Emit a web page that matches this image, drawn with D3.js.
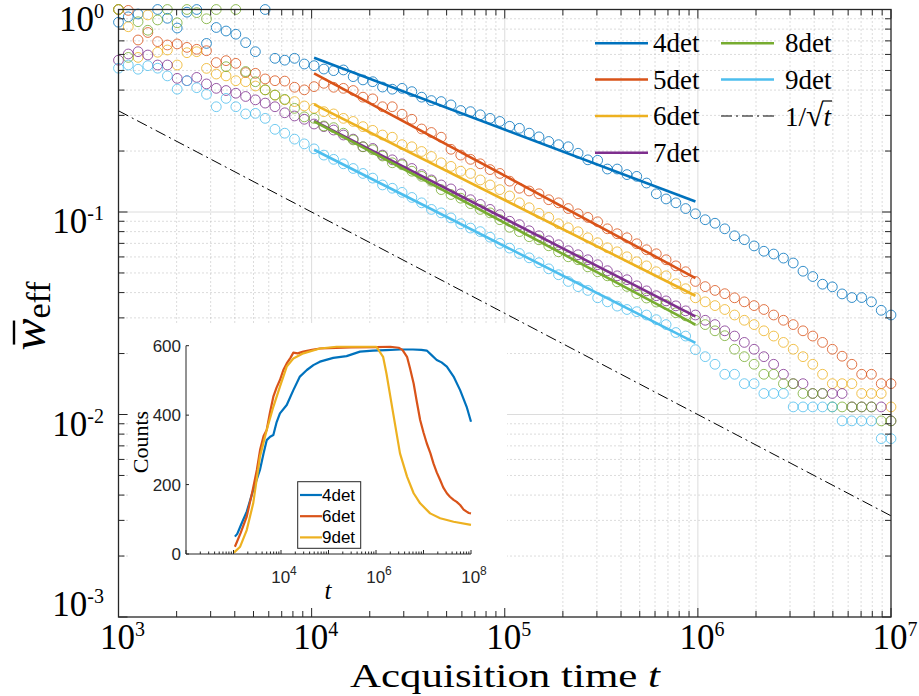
<!DOCTYPE html>
<html lang="en">
<head>
<meta charset="UTF-8">
<title>Effective width vs acquisition time</title>
<script src="https://d3js.org/d3.v7.min.js"></script>
<style>
  body { margin: 0; background: #fff; }
  svg { display: block; }
  .serif { font-family: 'Liberation Serif', 'DejaVu Serif', serif; }
  .sans { font-family: 'Liberation Sans', 'DejaVu Sans', sans-serif; }
</style>
</head>
<body>
<svg id="chart" width="919" height="696"></svg>
<script>
// ---- data ----
const seriesNames = ['4det', '5det', '6det', '7det', '8det', '9det'];
const seriesColors = ['#0072BD', '#D95319', '#EDB120', '#7E2F8E', '#77AC30', '#4DBEEE'];

// 80 log-spaced acquisition times between 1e3 and 1e7 (sampling grid)
const times = d3.range(80).map(k => Math.pow(10, 3 + 4 * k / 79));

const w4 = [0.865,0.92,0.95,null,1.0,0.905,0.81,0.97,1.0,0.68,
  0.815,0.783,0.755,0.686,0.619,1.0,0.574,0.562,0.574,0.538,
  0.528,0.508,0.499,0.503,0.466,0.449,0.44,0.414,0.404,0.408,
  0.393,0.369,0.355,0.351,0.338,0.317,0.313,0.302,0.29,0.28,
  0.265,0.259,0.245,0.235,0.223,0.215,0.21,0.195,0.181,0.18,
  0.163,0.163,0.153,0.15,0.139,0.123,0.116,0.111,0.104,0.098,
  0.0916,0.088,0.0826,0.0763,0.073,0.068,0.064,0.062,0.0592,0.056,
  0.051,0.048,0.044,0.0427,0.0394,0.0378,0.0378,0.036,0.0327,0.031];
const w5 = [1.0,0.99,0.707,0.77,0.694,0.668,0.676,0.65,0.636,0.626,
  0.547,0.559,0.542,0.488,0.484,0.454,0.445,0.443,0.413,0.401,
  0.416,0.432,0.413,0.408,0.398,0.369,0.362,0.331,0.331,0.304,
  0.287,0.257,0.247,0.234,0.204,0.191,0.182,0.173,0.162,0.155,
  0.142,0.131,0.127,0.123,0.115,0.111,0.104,0.098,0.094,0.0895,
  0.0826,0.0781,0.0746,0.0697,0.0651,0.0622,0.0581,0.0542,0.0507,0.0454,
  0.0428,0.041,0.0395,0.0377,0.036,0.0345,0.033,0.031,0.0292,0.0278,
  0.0259,0.0244,0.0227,0.021,0.0194,0.0177,0.0158,0.0158,0.0142,0.0142];
const w6 = [1.0,0.822,0.58,0.94,0.615,0.631,0.532,0.612,0.619,0.512,
  0.48,0.47,0.445,0.44,0.419,0.401,0.378,0.358,0.351,0.334,
  0.325,0.313,0.305,0.29,0.28,0.264,0.253,0.24,0.234,0.215,
  0.21,0.199,0.188,0.175,0.168,0.159,0.155,0.144,0.136,0.129,
  0.12,0.111,0.105,0.0985,0.094,0.0875,0.0836,0.0799,0.0746,0.0705,
  0.0666,0.0636,0.0601,0.0568,0.0542,0.0507,0.0484,0.0442,0.0418,0.0377,
  0.036,0.0345,0.033,0.031,0.0292,0.0278,0.0259,0.0244,0.0227,0.021,
  0.0193,0.0177,0.0158,0.0142,0.0142,0.0142,0.0127,0.0127,0.0127,0.0109];
const w7 = [0.562,0.603,0.619,0.596,0.532,0.532,0.457,0.445,0.462,0.429,
  0.408,0.398,0.386,0.372,0.358,0.345,0.331,0.309,0.298,0.287,
  0.272,0.264,0.254,0.24,0.229,0.21,0.206,0.191,0.181,0.173,
  0.164,0.153,0.144,0.136,0.13,0.123,0.115,0.109,0.103,0.097,
  0.09,0.0866,0.0808,0.0763,0.0721,0.0689,0.0644,0.0615,0.0581,0.0549,
  0.0513,0.0484,0.0463,0.0432,0.0408,0.0386,0.0364,0.0344,0.0325,0.031,
  0.0292,0.0278,0.0259,0.0244,0.0227,0.021,0.0193,0.0177,0.0158,0.0142,
  0.0142,0.0127,0.0127,0.0127,0.0127,0.0109,0.0109,0.0109,0.0109,0.0093];
const w8 = [1.0,0.58,0.87,0.79,0.888,1.0,0.86,1.0,0.965,0.9,
  1.0,0.522,1.0,0.494,0.44,0.401,0.378,0.36,0.325,0.295,
  0.29,0.266,0.261,0.245,0.227,0.21,0.203,0.189,0.175,0.171,
  0.159,0.15,0.142,0.129,0.122,0.117,0.11,0.103,0.099,0.0916,
  0.084,0.08,0.0755,0.0729,0.0681,0.0636,0.0601,0.0581,0.0536,0.0507,
  0.0484,0.0452,0.0429,0.0395,0.0376,0.0359,0.0349,0.0318,0.0307,0.0292,
  0.0278,0.0259,0.0245,0.021,0.0193,0.0177,0.0158,0.0158,0.0142,0.0142,
  0.0127,0.0127,0.0127,0.0109,0.0109,0.0109,0.0109,0.0109,0.0093,0.0093];
const w9 = [0.513,0.532,0.507,0.528,0.513,0.47,0.404,0.445,0.411,0.381,
  0.331,0.364,0.331,0.305,0.307,0.29,0.256,0.245,0.229,0.217,
  0.205,0.191,0.182,0.173,0.164,0.155,0.147,0.136,0.131,0.125,
  0.118,0.111,0.103,0.099,0.0935,0.0875,0.0833,0.08,0.0751,0.07,
  0.0663,0.0624,0.0594,0.0562,0.0524,0.049,0.0454,0.0428,0.041,0.0377,
  0.036,0.0343,0.033,0.0322,0.031,0.0294,0.0278,0.0254,0.0244,0.0209,
  0.0193,0.0177,0.0158,0.0158,0.0142,0.0142,0.0127,0.0127,0.0127,0.0109,
  0.0109,0.0109,0.0109,0.0109,0.0093,0.0093,0.0093,0.0093,0.0076,0.0076];
const seriesValues = [w4, w5, w6, w7, w8, w9];

// power-law fits, drawn between these two times
const fitT = [times[20], times[59]];
const fit4 = [0.578, 0.1127];
const fit5 = [0.484, 0.0472];
const fit6 = [0.340, 0.0386];
const fit7 = [0.282, 0.0305];
const fit8 = [0.280, 0.0278];
const fit9 = [0.203, 0.0226];
const fitValues = [fit4, fit5, fit6, fit7, fit8, fit9];

// reference 1/sqrt(t) guide
const refT = [1e3, 1e7];
const refVals = [0.316, 0.00316];

// inset: counts vs t
const insetNames = ['4det', '6det', '9det'];
const insetColors = ['#0072BD', '#D95319', '#EDB120'];
const c4 = [[1.07e3,50],[1.2e3,58],[1.45e3,85],[1.9e3,122],[2.6e3,184],[3.6e3,242],[4.3e3,290],
  [5e3,328],[5.9e3,338],[6.9e3,343],[8.1e3,380],[9.5e3,405],[1.32e4,429],[1.82e4,472],
  [2.5e4,511],[3.5e4,530],[4.8e4,544],[6.6e4,554],[1.26e5,565],[2.4e5,570],[4.6e5,583],
  [8.7e5,586],[1.6e6,587],[3.2e6,589],[6e6,589],[9e6,588],[1.17e7,586],[1.5e7,572],
  [1.9e7,559],[2.4e7,552],[3.1e7,540],[4.3e7,511],[5.9e7,472],[8.1e7,424],[1e8,381]];
const c6 = [[1.07e3,21],[1.41e3,60],[1.9e3,108],[2.5e3,180],[3.1e3,242],[3.63e3,300],[4.3e3,340],
  [5e3,357],[5.9e3,410],[6.9e3,453],[8.1e3,480],[9.5e3,501],[1.12e4,530],[1.32e4,549],
  [1.58e4,565],[1.82e4,580],[2.24e4,578],[2.95e4,583],[4.5e4,588],[6.6e4,592],[1e5,593],
  [3e5,595],[1e6,596],[2e6,597],[3e6,594],[3.6e6,588],[4.5e6,568],[5.2e6,535],[6.2e6,491],
  [7.2e6,440],[8.5e6,386],[1e7,350],[1.17e7,319],[1.4e7,290],[1.62e7,261],[1.9e7,235],
  [2.24e7,213],[2.6e7,192],[3.1e7,175],[3.6e7,165],[4.3e7,156],[5e7,150],[5.9e7,141],
  [7e7,128],[8.1e7,122],[9e7,118],[1e8,117]];
const c9 = [[1.02e3,4],[1.38e3,21],[1.9e3,69],[2.6e3,146],[3.6e3,280],[5e3,357],[6.9e3,424],
  [9.5e3,482],[1.32e4,540],[1.82e4,563],[2.95e4,578],[6.6e4,592],[1.48e5,597],[3.3e5,597],
  [1.02e6,597],[1.41e6,568],[1.66e6,520],[2.3e6,405],[3.2e6,290],[4.5e6,223],[6.2e6,175],
  [8.5e6,146],[1.38e7,117],[2.24e7,103],[4.3e7,93],[1e8,84]];
const insetValues = [c4, c6, c9];

const xTickExp = [3, 4, 5, 6, 7];
const yTickExp = [-3, -2, -1, 0];
const insetXTickExp = [4, 6, 8];
const insetYTicks = [0, 200, 400, 600];

// ---- layout ----
const axisColor = '#262626';
const box = { left: 118.5, right: 891, top: 9.5, bottom: 617 };

const svg = d3.select('#chart');
const x = d3.scaleLog().domain([1e3, 1e7]).range([box.left, box.right]);
const y = d3.scaleLog().domain([1e-3, 1]).range([box.bottom, box.top]);

function minorList(fromExp, toExp) {
  const out = [];
  for (let e = fromExp; e < toExp; e++) for (let m = 2; m <= 9; m++) out.push(m * Math.pow(10, e));
  return out;
}
const xMinor = minorList(3, 7);
const yMinor = minorList(-3, 0);
const xMajor = xTickExp.map(e => Math.pow(10, e));
const yMajor = yTickExp.map(e => Math.pow(10, e));

// grid
const grid = svg.append('g');
grid.selectAll(null).data(xMinor).join('line')
  .attr('x1', d => x(d)).attr('x2', d => x(d)).attr('y1', box.top).attr('y2', box.bottom)
  .attr('stroke', '#b8b8b8').attr('stroke-dasharray', '1,3');
grid.selectAll(null).data(yMinor).join('line')
  .attr('y1', d => y(d)).attr('y2', d => y(d)).attr('x1', box.left).attr('x2', box.right)
  .attr('stroke', '#b8b8b8').attr('stroke-dasharray', '1,3');
grid.selectAll(null).data(xMajor.slice(1, -1)).join('line')
  .attr('x1', d => x(d)).attr('x2', d => x(d)).attr('y1', box.top).attr('y2', box.bottom)
  .attr('stroke', '#dcdcdc');
grid.selectAll(null).data(yMajor.slice(1, -1)).join('line')
  .attr('y1', d => y(d)).attr('y2', d => y(d)).attr('x1', box.left).attr('x2', box.right)
  .attr('stroke', '#dcdcdc');

// markers
const marks = svg.append('g');
seriesValues.forEach((vals, i) => {
  const pts = vals.map((v, k) => ({ t: times[k], v })).filter(d => d.v != null);
  marks.selectAll(null).data(pts).join('circle')
    .attr('cx', d => x(d.t)).attr('cy', d => y(d.v)).attr('r', 4.9)
    .attr('fill', 'none').attr('stroke', seriesColors[i])
    .attr('stroke-opacity', 0.8).attr('stroke-width', 1);
});

// fit lines
const line = d3.line().x(d => x(d[0])).y(d => y(d[1]));
fitValues.forEach((f, i) => {
  svg.append('path').attr('d', line([[fitT[0], f[0]], [fitT[1], f[1]]]))
    .attr('stroke', seriesColors[i]).attr('stroke-width', 2.6).attr('fill', 'none');
});
svg.append('path').attr('d', line([[refT[0], refVals[0]], [refT[1], refVals[1]]]))
  .attr('stroke', '#000').attr('stroke-width', 1).attr('fill', 'none')
  .attr('stroke-dasharray', '11,4,2,4');

// legend
const leg = svg.append('g').attr('class', 'serif').attr('font-size', 27).attr('fill', '#000');
const legRows = [43.3, 79.5, 116, 152.7];
const legItems = [
  { name: '4det', c: seriesColors[0], col: 0, row: 0 },
  { name: '5det', c: seriesColors[1], col: 0, row: 1 },
  { name: '6det', c: seriesColors[2], col: 0, row: 2 },
  { name: '7det', c: seriesColors[3], col: 0, row: 3 },
  { name: '8det', c: seriesColors[4], col: 1, row: 0 },
  { name: '9det', c: seriesColors[5], col: 1, row: 1 }
];
const legCols = [{ x1: 595, x2: 648, tx: 653 }, { x1: 721, x2: 774, tx: 785 }];
legItems.forEach(it => {
  const c = legCols[it.col], yy = legRows[it.row];
  leg.append('line').attr('x1', c.x1).attr('x2', c.x2).attr('y1', yy).attr('y2', yy)
    .attr('stroke', it.c).attr('stroke-width', 2.6);
  leg.append('text').attr('x', c.tx).attr('y', yy + 9).text(it.name);
});
leg.append('line').attr('x1', legCols[1].x1).attr('x2', legCols[1].x2)
  .attr('y1', legRows[2]).attr('y2', legRows[2])
  .attr('stroke', '#000').attr('stroke-width', 1).attr('stroke-dasharray', '11,4,2,4');
const sq = leg.append('text').attr('x', legCols[1].tx).attr('y', legRows[2] + 10);
sq.append('tspan').text('1/');
sq.append('tspan').attr('font-size', 32).text('\u221A');
sq.append('tspan').attr('font-style', 'italic').text('t');
{
  const n = sq.node();
  const r = n.getExtentOfChar(2), tt = n.getExtentOfChar(3);
  leg.append('line').attr('x1', r.x + r.width - 1).attr('x2', tt.x + tt.width + 1)
    .attr('y1', r.y + 4).attr('y2', r.y + 4).attr('stroke', '#000').attr('stroke-width', 1.2);
}

// inset background
svg.append('rect').attr('x', 128).attr('y', 323).attr('width', 379).attr('height', 292)
  .attr('fill', '#fff');

// main axes box + ticks
const ax = svg.append('g').attr('stroke', axisColor);
ax.append('rect').attr('x', box.left).attr('y', box.top)
  .attr('width', box.right - box.left).attr('height', box.bottom - box.top)
  .attr('fill', 'none').attr('stroke-width', 1.3);
function xTicks(vals, len) {
  ax.selectAll(null).data(vals).join('line')
    .attr('x1', d => x(d)).attr('x2', d => x(d)).attr('y1', box.bottom).attr('y2', box.bottom - len);
  ax.selectAll(null).data(vals).join('line')
    .attr('x1', d => x(d)).attr('x2', d => x(d)).attr('y1', box.top).attr('y2', box.top + len);
}
function yTicks(vals, len) {
  ax.selectAll(null).data(vals).join('line')
    .attr('y1', d => y(d)).attr('y2', d => y(d)).attr('x1', box.left).attr('x2', box.left + len);
  ax.selectAll(null).data(vals).join('line')
    .attr('y1', d => y(d)).attr('y2', d => y(d)).attr('x1', box.right).attr('x2', box.right - len);
}
xTicks(xMajor, 9); xTicks(xMinor, 6);
yTicks(yMajor, 9); yTicks(yMinor, 6);

// tick labels
const tl = svg.append('g').attr('class', 'serif').attr('fill', '#000');
function powLabel(g, px, py, exp, anchor, size, supSize, rise) {
  const t = g.append('text').attr('x', px).attr('y', py).attr('text-anchor', anchor)
    .attr('font-size', size);
  t.append('tspan').text('10');
  t.append('tspan').attr('dy', -rise).attr('font-size', supSize).text(String(exp));
  return t;
}
xTickExp.forEach(e => powLabel(tl, x(Math.pow(10, e)) + 4, 649, e, 'middle', 35, 20, 13));
yTickExp.forEach(e => {
  const ty = y(Math.pow(10, e));
  powLabel(tl, 104, e === -3 ? ty - 1 : ty + 21, e, 'end', 35, 20, 13);
});

// axis labels
const xl = svg.append('text').attr('class', 'serif').attr('x', 505).attr('y', 687)
  .attr('text-anchor', 'middle').attr('font-size', 34)
  .attr('textLength', 310).attr('lengthAdjust', 'spacingAndGlyphs');
xl.append('tspan').text('Acquisition time ');
xl.append('tspan').attr('font-style', 'italic').text('t');

const yl = svg.append('g').attr('transform', 'translate(45,316) rotate(-90)');
const ylt = yl.append('text').attr('class', 'serif').attr('text-anchor', 'middle');
ylt.append('tspan').attr('font-style', 'italic').attr('font-size', 48).text('w');
ylt.append('tspan').attr('font-size', 34).attr('dy', 5).text('eff');
{
  const e = ylt.node().getExtentOfChar(0);
  yl.append('line').attr('x1', e.x + 6).attr('x2', e.x + e.width - 2)
    .attr('y1', -31).attr('y2', -31).attr('stroke', '#000').attr('stroke-width', 2.4);
}

// ---- inset ----
const ibox = { left: 186, right: 471, top: 345.7, bottom: 554 };
const ix = d3.scaleLog().domain([1e2, 1e8]).range([ibox.left, ibox.right]);
const iy = d3.scaleLinear().domain([0, 600]).range([ibox.bottom, ibox.top]);
const iline = d3.line().x(d => ix(d[0])).y(d => iy(d[1]));
insetValues.forEach((vals, i) => {
  svg.append('path').attr('d', iline(vals)).attr('fill', 'none')
    .attr('stroke', insetColors[i]).attr('stroke-width', 2.2).attr('stroke-linejoin', 'round');
});
const iax = svg.append('g').attr('stroke', axisColor);
iax.append('line').attr('x1', ibox.left).attr('x2', ibox.right).attr('y1', ibox.bottom).attr('y2', ibox.bottom);
iax.append('line').attr('x1', ibox.left).attr('x2', ibox.left).attr('y1', ibox.bottom).attr('y2', ibox.top);
const iMajor = d3.range(2, 9).map(e => Math.pow(10, e));
const iMinor = minorList(2, 8);
iax.selectAll(null).data(iMajor).join('line')
  .attr('x1', d => ix(d)).attr('x2', d => ix(d)).attr('y1', ibox.bottom).attr('y2', ibox.bottom - 4);
iax.selectAll(null).data(iMinor).join('line')
  .attr('x1', d => ix(d)).attr('x2', d => ix(d)).attr('y1', ibox.bottom).attr('y2', ibox.bottom - 2.5);
iax.selectAll(null).data(insetYTicks).join('line')
  .attr('y1', d => iy(d)).attr('y2', d => iy(d)).attr('x1', ibox.left).attr('x2', ibox.left + 3);

const itl = svg.append('g').attr('class', 'sans').attr('fill', '#262626');
insetYTicks.forEach(v => {
  itl.append('text').attr('x', ibox.left - 5).attr('y', iy(v) + 6).attr('text-anchor', 'end')
    .attr('font-size', 17).text(v);
});
insetXTickExp.forEach(e => powLabel(itl, ix(Math.pow(10, e)) + 3, 583, e, 'middle', 17, 12, 8));
svg.append('text').attr('class', 'serif').attr('x', 328).attr('y', 599).attr('text-anchor', 'middle')
  .attr('font-style', 'italic').attr('font-size', 25).text('t');
svg.append('text').attr('class', 'serif').attr('transform', 'translate(148,442) rotate(-90)')
  .attr('text-anchor', 'middle').attr('font-size', 22).text('Counts');

// inset legend
const il = svg.append('g');
il.append('rect').attr('x', 297.7).attr('y', 481.7).attr('width', 63).attr('height', 66.6)
  .attr('fill', '#fff').attr('stroke', axisColor).attr('stroke-width', 1);
insetNames.forEach((n, i) => {
  const yy = 495 + i * 21.2;
  il.append('line').attr('x1', 300).attr('x2', 322).attr('y1', yy).attr('y2', yy)
    .attr('stroke', insetColors[i]).attr('stroke-width', 2.2);
  il.append('text').attr('class', 'sans').attr('x', 322).attr('y', yy + 6)
    .attr('font-size', 17).attr('fill', '#000').text(n);
});
</script>
</body>
</html>
